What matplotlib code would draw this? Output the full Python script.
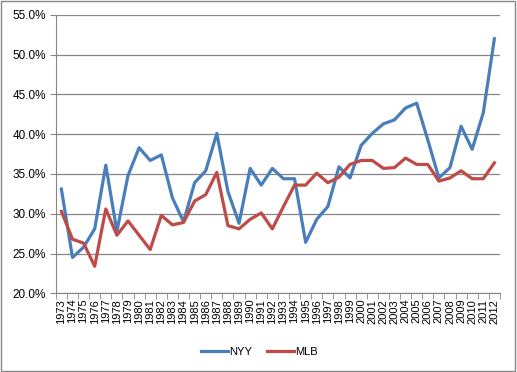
import matplotlib.pyplot as plt
import numpy as np
from matplotlib.patches import Rectangle
from matplotlib.ticker import FuncFormatter

years = list(range(1973, 2013))
nyy = [33.1, 24.5, 25.8, 28.1, 36.1, 27.8, 34.8, 38.3, 36.7, 37.4,
       32.0, 29.0, 33.9, 35.4, 40.1, 32.8, 28.8, 35.7, 33.6, 35.7,
       34.4, 34.4, 26.4, 29.3, 30.9, 35.9, 34.5, 38.6, 40.1, 41.3,
       41.8, 43.3, 43.9, 39.3, 34.5, 35.8, 41.0, 38.1, 42.7, 52.0]
mlb = [30.3, 26.8, 26.3, 23.4, 30.6, 27.3, 29.1, 27.3, 25.5, 29.8,
       28.6, 28.9, 31.6, 32.4, 35.2, 28.5, 28.1, 29.3, 30.1, 28.1,
       30.9, 33.6, 33.6, 35.1, 33.9, 34.6, 36.2, 36.7, 36.7, 35.7,
       35.8, 37.0, 36.2, 36.2, 34.1, 34.5, 35.4, 34.4, 34.4, 36.4]

plt.rcParams['font.family'] = ['Liberation Sans', 'DejaVu Sans']

fig = plt.figure(figsize=(5.17, 3.72), dpi=100)
ax = fig.add_axes([0.108, 0.2116, 0.859, 0.7484])

x = np.arange(len(years))
ax.plot(x, nyy, color='#4A7EBB', lw=2.3, label='NYY')
ax.plot(x, mlb, color='#BE4B48', lw=2.3, label='MLB')

ax.set_xlim(-0.5, len(years) - 0.5)
ax.set_ylim(20, 55)
ax.set_yticks(np.arange(20, 56, 5))
ax.yaxis.set_major_formatter(FuncFormatter(lambda v, p: f'{v:.1f}%'))
ax.grid(axis='y', color='#868686', lw=0.9)
ax.set_axisbelow(True)

ax.set_xticks(x)
ax.set_xticklabels([str(y) for y in years], rotation=90, fontsize=8)
ax.set_xticks(np.arange(-0.5, len(years), 1), minor=True)
ax.tick_params(axis='x', which='major', length=0, pad=4)
ax.tick_params(axis='x', which='minor', length=4, color='#868686', direction='out')
ax.tick_params(axis='y', length=4, color='#868686', labelsize=8.5, pad=3)

for s in ['top', 'right']:
    ax.spines[s].set_visible(False)
for s in ['left', 'bottom']:
    ax.spines[s].set_color('#868686')

fig.legend(loc='center', bbox_to_anchor=(0.502, 0.054), ncol=2, frameon=False,
           fontsize=8, handlelength=2.4, columnspacing=1.3, handletextpad=0.15)

fig.patches.append(Rectangle((0.002, 0.003), 0.994, 0.994, transform=fig.transFigure,
                             fill=False, edgecolor='#868686', lw=1))

fig.savefig('out.png', dpi=100)
